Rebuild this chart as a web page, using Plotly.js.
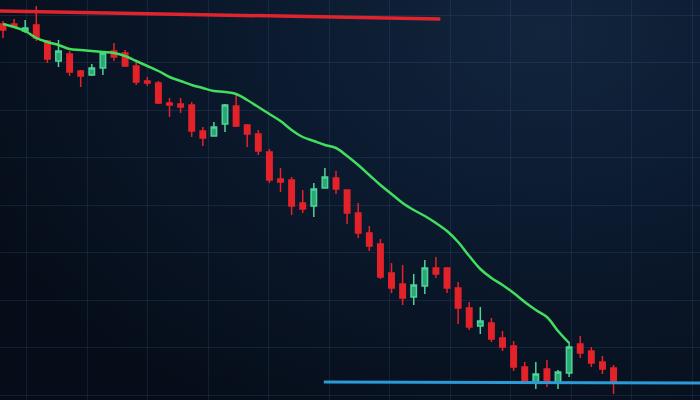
<!DOCTYPE html>
<html>
<head>
<meta charset="utf-8">
<script src="https://cdn.plot.ly/plotly-3.0.1.min.js"></script>
<style>
  html, body { margin: 0; padding: 0; background: #060d19; }
  #chart {
    width: 700px; height: 400px;
    background: radial-gradient(ellipse 90% 110% at 78% 8%, #12253d 0%, #0b1a2e 45%, #060d19 100%);
  }
</style>
</head>
<body>
<div id="chart"></div>
<script>
// Candle index (session number)
const sessions = [0,1,2,3,4,5,6,7,8,9,10,11,12,13,14,15,16,17,18,19,20,21,22,23,24,25,26,27,
  28,29,30,31,32,33,34,35,36,37,38,39,40,41,42,43,44,45,46,47,48,49,50,51,52,53,54,55];

const openVals  = [376,376,369,375,359,339,346,329,325,332,349,347,334,319,317,297,296,295,269,264,276,294,275,266,248,221,220,197,194,212,222,210,187,167,156,127,116,103,114,132,132,112,92,74,77,62,54,33,17,31,17,27,56,49,38,32];
const closeVals = [370,373,372,362,341,349,328,324,332,347,343,334,318,317,297,295,293,269,262,273,295,274,266,249,220,218,194,191,211,223,211,187,167,154,123,112,102,115,132,126,112,92,73,79,61,53,33,18,26,17,28,53,47,37,31,17];
const highVals  = [379,381,380,394,360,360,349,330,336,348,357,350,339,323,319,302,302,298,273,278,296,307,276,270,251,232,223,210,217,232,229,210,197,174,161,137,135,126,140,143,133,118,98,93,82,69,59,38,38,40,30,58,64,53,44,35];
const lowVals   = [362,372,367,359,337,333,324,313,324,325,339,333,315,314,296,283,287,263,254,264,268,273,253,245,217,208,185,187,183,212,206,176,162,149,121,107,95,95,106,122,107,76,70,66,58,49,29,17,11,13,11,23,42,33,26,6];

// Moving-average line
const maSessions = [0,1,2,3,4,5,6,7,8,9,10,11,12,13,14,15,16,17,18,19,20,21,22,23,24,25,
  26,27,28,29,30,31,32,33,34,35,36,37,38,39,40,41,42,43,44,45,46,47,48,49,50,51];
const maVals = [376,373,369,362,358,355,351,350,349,348,347,344,339,334,329,323,319,315,312,309,308,306,300,293,286,279,270,263,259,255,252,244,235,225,215,206,197,190,184,177,169,158,144,131,122,115,107,98,90,83,69,57];

// Resistance (red) and support (blue) levels
const resistanceX = [-0.3, 39.4];
const resistanceY = [389, 381];
const supportX = [28.9, 63];
const supportY = [18, 17];

const traces = [
  {
    type: 'candlestick',
    x: sessions, open: openVals, high: highVals, low: lowVals, close: closeVals,
    increasing: { line: { color: '#4fd39a', width: 1.5 }, fillcolor: '#2aa874' },
    decreasing: { line: { color: '#e3222a', width: 1.5 }, fillcolor: '#e3222a' },
    whiskerwidth: 0,
    hoverinfo: 'skip',
    showlegend: false
  },
  {
    type: 'scatter', mode: 'lines',
    x: maSessions, y: maVals,
    line: { color: '#42de5e', width: 2.5, shape: 'spline', smoothing: 1 },
    hoverinfo: 'skip', showlegend: false
  },
  {
    type: 'scatter', mode: 'lines',
    x: resistanceX, y: resistanceY,
    line: { color: '#e0242d', width: 3.5 },
    hoverinfo: 'skip', showlegend: false
  },
  {
    type: 'scatter', mode: 'lines',
    x: supportX, y: supportY,
    line: { color: '#2b9ad6', width: 3 },
    hoverinfo: 'skip', showlegend: false
  }
];

const layout = {
  width: 700, height: 400,
  margin: { l: 0, r: 0, t: 0, b: 0, pad: 0 },
  paper_bgcolor: 'rgba(0,0,0,0)',
  plot_bgcolor: 'rgba(0,0,0,0)',
  boxgap: 0.3,
  showlegend: false,
  xaxis: {
    range: [-0.27, 62.79],
    rangeslider: { visible: false },
    showticklabels: false, ticks: '',
    showgrid: true, gridcolor: 'rgba(70,105,150,0.2)', gridwidth: 1,
    tick0: 2.16, dtick: 5.45,
    zeroline: false, showline: false, fixedrange: true
  },
  yaxis: {
    range: [0, 400],
    showticklabels: false, ticks: '',
    showgrid: true, gridcolor: 'rgba(70,105,150,0.2)', gridwidth: 1,
    tick0: 5, dtick: 47.5,
    zeroline: false, showline: false, fixedrange: true
  }
};

Plotly.newPlot('chart', traces, layout, { displayModeBar: false, staticPlot: true });
</script>
</body>
</html>
